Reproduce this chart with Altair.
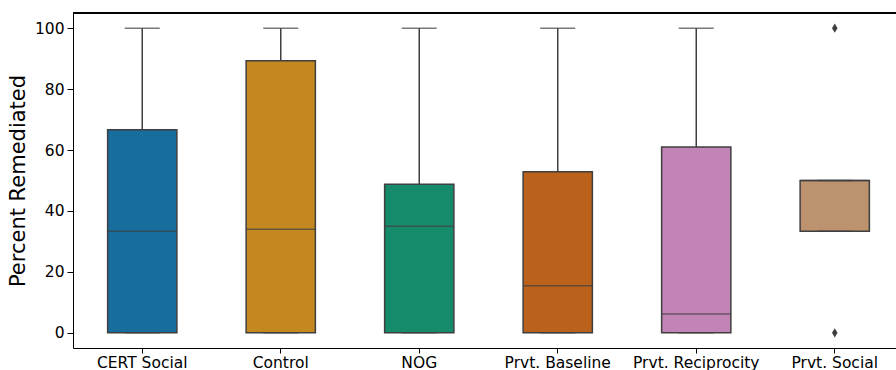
import altair as alt
import pandas as pd

groups = ["CERT Social", "Control", "NOG", "Prvt. Baseline", "Prvt. Reciprocity", "Prvt. Social"]
whisk_lo = [0, 0, 0, 0, 0, 33.3]
q1 = [0, 0, 0, 0, 0, 33.3]
median = [33.3, 34.0, 35.0, 15.4, 6.2, 50.0]
q3 = [66.7, 89.3, 48.8, 52.9, 61.0, 50.0]
whisk_hi = [100, 100, 100, 100, 100, 50.0]
outlier_groups = ["Prvt. Social", "Prvt. Social"]
outlier_values = [100, 0]
colors = ["#176d9c", "#c38820", "#168b6b", "#ba611b", "#c283b6", "#bd926e"]

df = pd.DataFrame({"group": groups, "lo": whisk_lo, "q1": q1, "med": median,
                   "q3": q3, "hi": whisk_hi})
out = pd.DataFrame({"group": outlier_groups, "value": outlier_values})

W, H = 823, 335
LINE = "#3f3f3f"
FONT = "DejaVu Sans"

xscale = alt.Scale(domain=groups, range=[0, 831], paddingInner=0, paddingOuter=0)
x = alt.X("group:N", scale=xscale, sort=groups,
          axis=alt.Axis(title=None, labelAngle=0, labelFontSize=15.5, labelFont=FONT,
                        labelColor="black", domainColor="black", tickColor="black",
                        tickSize=5, labelPadding=2, grid=False))
yscale = alt.Scale(domain=[-5, 105], nice=False, zero=False)
yaxis = alt.Axis(title="Percent Remediated", values=[0, 20, 40, 60, 80, 100],
                 titleFontSize=21, titleFont=FONT, titleFontWeight="normal",
                 titleColor="black", labelFontSize=15.5, labelFont=FONT,
                 labelColor="black", domainColor="black", tickColor="black",
                 tickSize=6, labelPadding=3, titlePadding=6, grid=False)

base = alt.Chart(df)

upper = base.mark_rule(color=LINE, strokeWidth=1.5).encode(
    x=x, y=alt.Y("q3:Q", scale=yscale, axis=yaxis), y2="hi:Q")
lower = base.mark_rule(color=LINE, strokeWidth=1.5).encode(
    x=x, y=alt.Y("lo:Q", scale=yscale), y2="q1:Q")
box = base.mark_bar(width=alt.RelativeBandSize(0.5), stroke=LINE, strokeWidth=1.5).encode(
    x=x, y=alt.Y("q1:Q", scale=yscale), y2="q3:Q",
    color=alt.Color("group:N", scale=alt.Scale(domain=groups, range=colors), legend=None))
med = base.mark_tick(color=LINE, size=69, thickness=1.5, orient="horizontal").encode(
    x=x, y=alt.Y("med:Q", scale=yscale))
cap_hi = base.mark_tick(color=LINE, size=35, thickness=1.5, orient="horizontal").encode(
    x=x, y=alt.Y("hi:Q", scale=yscale))
cap_lo = base.mark_tick(color=LINE, size=35, thickness=1.5, orient="horizontal").encode(
    x=x, y=alt.Y("lo:Q", scale=yscale))
pts = alt.Chart(out).mark_point(shape="M0,-1L0.6,0L0,1L-0.6,0Z", filled=True,
                                color=LINE, size=85, opacity=1).encode(
    x=x, y=alt.Y("value:Q", scale=yscale))
top = base.mark_rule(color="black", strokeWidth=1).encode(
    x=alt.value(0), x2=alt.value(W), y=alt.value(0))

chart = alt.layer(upper, lower, box, med, cap_hi, cap_lo, pts, top).properties(
    width=W, height=H,
    autosize=alt.AutoSizeParams(type="none"),
    padding={"left": 73, "top": 13, "right": 0, "bottom": 22},
).configure_view(stroke=None).configure(background="white")

chart.save("out.html", embed_options={"renderer": "svg", "actions": False})
